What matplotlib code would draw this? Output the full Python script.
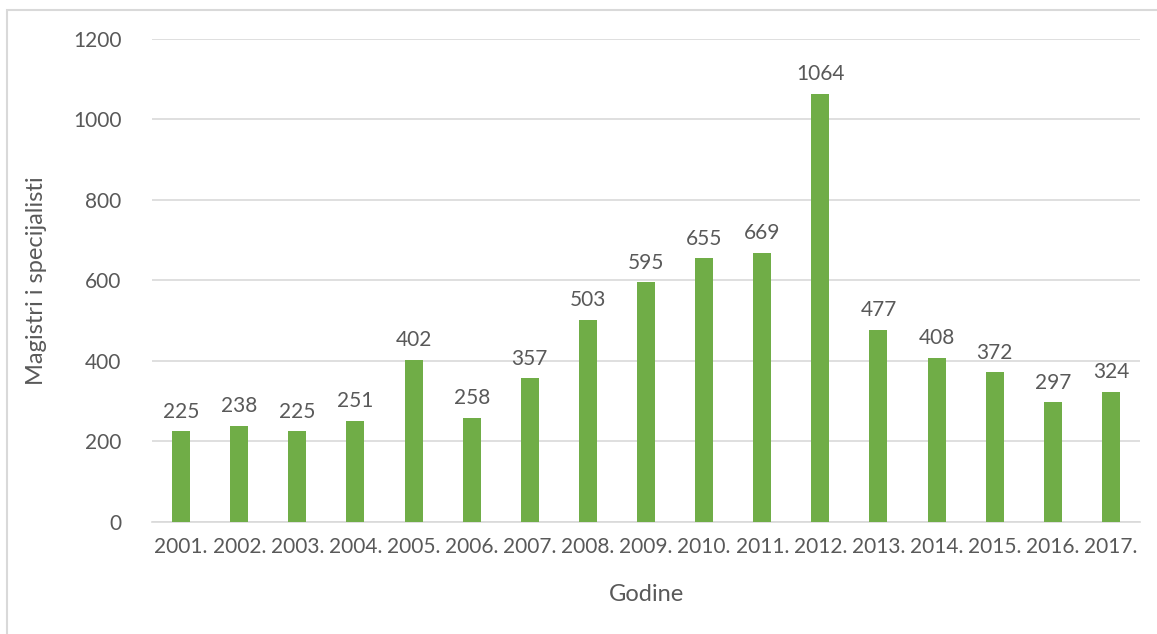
import matplotlib.pyplot as plt
import matplotlib.patches as mpatches
import numpy as np

years = ['2001.', '2002.', '2003.', '2004.', '2005.', '2006.', '2007.', '2008.', '2009.',
         '2010.', '2011.', '2012.', '2013.', '2014.', '2015.', '2016.', '2017.']
values = [225, 238, 225, 251, 402, 258, 357, 503, 595, 655, 669, 1064, 477, 408, 372, 297, 324]
y_ticks = [0, 200, 400, 600, 800, 1000, 1200]

green = '#70AD47'
text_gray = '#595959'
grid_gray = '#D9D9D9'

plt.rcParams['font.family'] = ['Lato', 'DejaVu Sans']

fig = plt.figure(figsize=(11.57, 6.34), dpi=100)
ax = fig.add_axes([0.1314, 0.1767, 0.8539, 0.7618])

x = np.arange(len(years))
bars = ax.bar(x, values, width=0.31, color=green, zorder=3)

# data labels above bars
for xi, v in zip(x, values):
    ax.annotate(str(v), (xi, v), xytext=(0, 7), textcoords='offset points',
                ha='center', va='bottom', fontsize=15, color=text_gray)

ax.set_xlim(-0.5, len(years) - 0.5)
ax.set_ylim(0, 1200)
ax.set_yticks(y_ticks)
ax.set_xticks(x)
ax.set_xticklabels(years)
ax.yaxis.grid(True, color=grid_gray, linewidth=1.2, zorder=0)
ax.set_axisbelow(True)

for s in ['top', 'right', 'left']:
    ax.spines[s].set_visible(False)
ax.spines['bottom'].set_color(grid_gray)
ax.spines['bottom'].set_linewidth(1.2)
ax.tick_params(axis='both', length=0, labelsize=15, colors=text_gray)
ax.tick_params(axis='y', pad=22)
ax.tick_params(axis='x', pad=11)

ax.set_xlabel('Godine', fontsize=17, color=text_gray, labelpad=19)
ax.set_ylabel('Magistri i specijalisti', fontsize=17, color=text_gray, labelpad=19)

# chart frame (only top/left edges visible in the original crop)
frame = mpatches.Rectangle((7 / 1157, -0.1), 1.2, 1 - 10 / 634 + 0.1, transform=fig.transFigure,
                           fill=False, edgecolor=grid_gray, linewidth=1.5)
fig.patches.append(frame)

fig.savefig('out.png', dpi=100)
